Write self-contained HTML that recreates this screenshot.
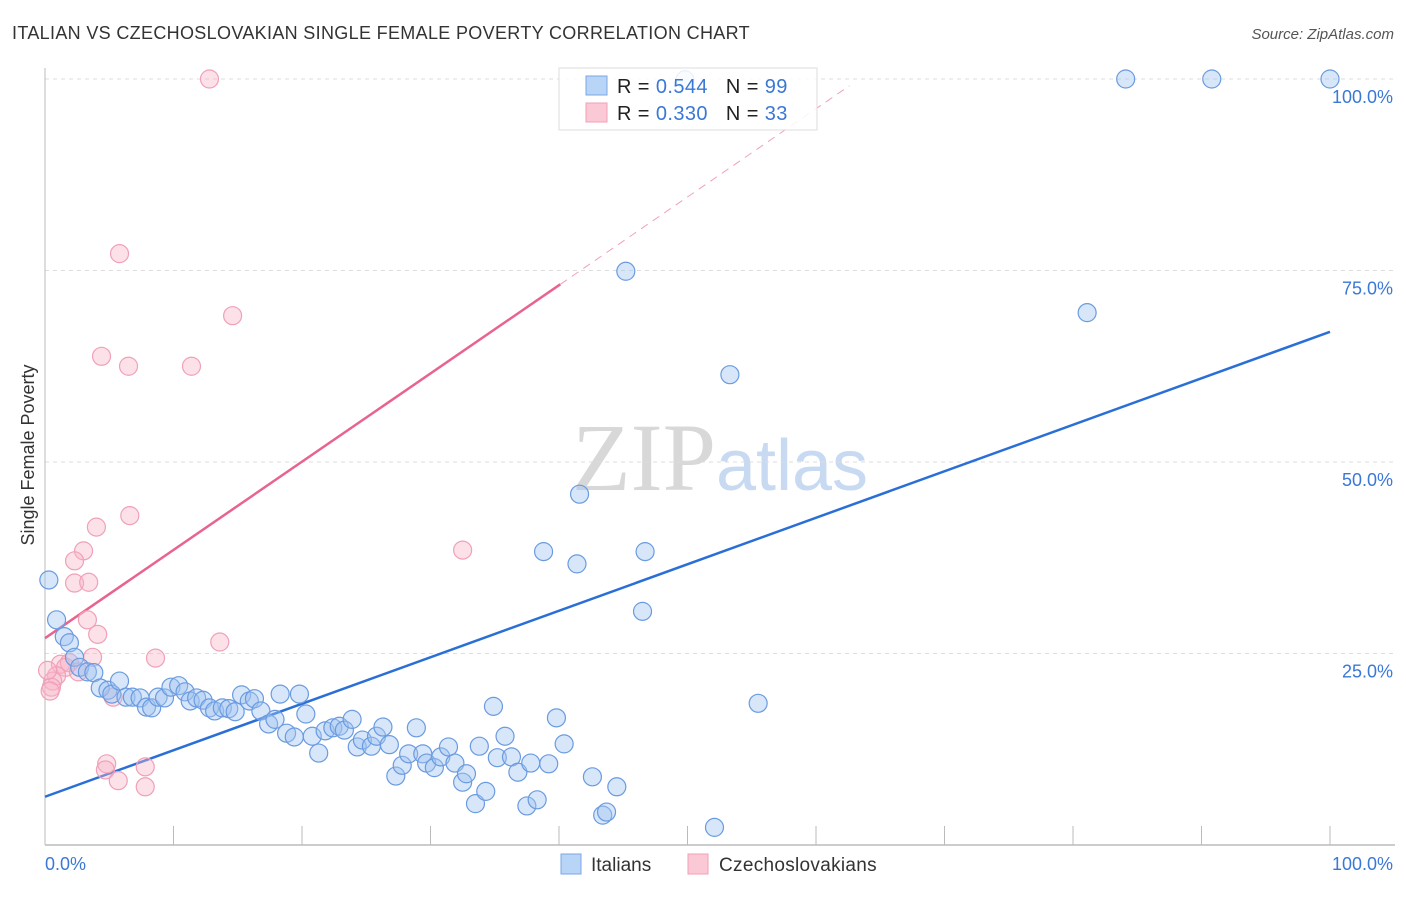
<!DOCTYPE html>
<html><head><meta charset="utf-8"><style>
body{margin:0;background:#fff;font-family:"Liberation Sans",sans-serif;}
svg text{font-family:"Liberation Sans",sans-serif;}
</style></head><body>
<svg id="chart" width="1406" height="892" xmlns="http://www.w3.org/2000/svg">
<text x="12" y="39" font-size="18" fill="#333" letter-spacing="0.33">ITALIAN VS CZECHOSLOVAKIAN SINGLE FEMALE POVERTY CORRELATION CHART</text>
<text x="1394" y="39" font-size="15" fill="#555" text-anchor="end" font-style="italic">Source: ZipAtlas.com</text>
<text x="720" y="490" font-size="96" text-anchor="middle"><tspan fill="#d8d8d8" font-family="Liberation Serif">ZIP</tspan><tspan fill="#c8daf2" font-size="72">atlas</tspan></text>
<text transform="translate(34,455) rotate(-90)" font-size="18" fill="#333" text-anchor="middle">Single Female Poverty</text>
<g id="grid"></g><g id="axes"></g><g id="lines"></g><g id="pts"></g>
<g>
<rect x="559" y="68" width="258" height="62" fill="#fff" fill-opacity="0.85" stroke="#ddd"/>
<rect x="586" y="76" width="21" height="19" fill="#b8d4f6" stroke="#7aa7e6"/>
<rect x="586" y="103" width="21" height="19" fill="#fbc8d6" stroke="#f0a0b8"/>
<text x="617" y="93" font-size="20" fill="#222" letter-spacing="0.4">R = <tspan fill="#3a78d6">0.544</tspan><tspan dx="18">N = </tspan><tspan fill="#3a78d6">99</tspan></text>
<text x="617" y="120" font-size="20" fill="#222" letter-spacing="0.4">R = <tspan fill="#3a78d6">0.330</tspan><tspan dx="18">N = </tspan><tspan fill="#3a78d6">33</tspan></text>
</g>
<g>
<rect x="561" y="854" width="20" height="20" fill="#b8d4f6" stroke="#7aa7e6"/>
<text x="591" y="871" font-size="19" fill="#333">Italians</text>
<rect x="688" y="854" width="20" height="20" fill="#fbc8d6" stroke="#f0a0b8"/>
<text x="719" y="871" font-size="19" fill="#333" letter-spacing="0.3">Czechoslovakians</text>
</g>
</svg>
<script>
const yTicks=[25,50,75,100];
const yTickLabels=["25.0%","50.0%","75.0%","100.0%"];
const xTickVals=[0,10,20,30,40,50,60,70,80,90,100];
const italiansX=[0.3,0.9,1.5,1.9,2.3,2.7,3.3,3.8,4.3,4.9,5.2,5.8,6.3,6.8,7.4,7.9,8.3,8.8,9.3,9.8,10.4,10.9,11.3,11.8,12.3,12.8,13.2,13.8,14.3,14.8,15.3,15.9,16.3,16.8,17.4,17.9,18.3,18.8,19.4,19.8,20.3,20.8,21.3,21.8,22.4,22.9,23.3,23.9,24.3,24.7,25.4,25.8,26.3,26.8,27.3,27.8,28.3,28.9,29.4,29.7,30.3,30.8,31.4,31.9,32.5,32.8,33.5,33.8,34.3,34.9,35.2,35.8,36.3,36.8,37.5,37.8,38.3,38.8,39.2,39.8,40.4,41.4,41.6,42.6,43.4,43.7,44.5,45.2,46.5,46.7,49.8,52.1,53.3,55.5,81.1,84.1,90.8,100];
const italiansY=[34.6,29.4,27.2,26.4,24.5,23.2,22.6,22.5,20.5,20.2,19.7,21.4,19.3,19.3,19.2,18.0,17.9,19.3,19.2,20.6,20.8,20.0,18.8,19.2,18.9,17.9,17.5,17.9,17.8,17.4,19.6,18.8,19.1,17.5,15.8,16.4,19.7,14.6,14.1,19.7,17.1,14.2,12.0,14.9,15.3,15.5,15.0,16.4,12.8,13.7,12.9,14.2,15.4,13.1,9.0,10.4,11.9,15.3,11.9,10.7,10.1,11.5,12.8,10.7,8.2,9.3,5.4,12.9,7.0,18.1,11.4,14.2,11.5,9.5,5.1,10.7,5.9,38.3,10.6,16.6,13.2,36.7,45.8,8.9,3.9,4.3,7.6,74.9,30.5,38.3,99.9,2.3,61.4,18.5,69.5,100,100,100];
const czechX=[12.8,5.8,14.6,4.4,6.5,11.4,6.6,4.0,3.0,2.3,2.3,3.4,3.3,4.1,13.6,8.6,3.7,1.2,1.9,1.6,2.6,0.9,0.6,0.5,0.4,5.3,4.8,4.7,7.8,5.7,7.8,32.5,0.2];
const czechY=[100,77.2,69.1,63.8,62.5,62.5,43.0,41.5,38.4,37.1,34.2,34.3,29.4,27.5,26.5,24.4,24.5,23.6,23.8,23.2,22.6,22.1,21.4,20.6,20.1,19.3,10.6,9.8,10.2,8.4,7.6,38.5,22.8];
const italiansTrend=[6.3,67.0];   // y at x=0 and x=100
const czechTrend=[27.0,1.152];   // intercept, slope
const NS="http://www.w3.org/2000/svg";
const X=v=>45+v*12.85, Y=v=>845-v*7.66;
function mk(tag,attrs,parent){const e=document.createElementNS(NS,tag);for(const k in attrs)e.setAttribute(k,attrs[k]);document.getElementById(parent).appendChild(e);return e;}
yTicks.forEach((t,i)=>{
 const g=mk('line',{x1:45,x2:1395,y1:Y(t),y2:Y(t),stroke:'#ddd','stroke-dasharray':'4,4'},'grid');
 
 
 const l=mk('text',{x:1393,y:Y(t)+24,'font-size':18,fill:'#3a78d6','text-anchor':'end'},'grid');
 l.textContent=yTickLabels[i];
 
 
});
let a=mk('line',{x1:45,x2:45,y1:68,y2:845,stroke:'#bbb'},'axes');


a=mk('line',{x1:45,x2:1395,y1:845,y2:845,stroke:'#bbb','stroke-width':1.5},'axes');


xTickVals.forEach(t=>{const k=mk('line',{x1:X(t),x2:X(t),y1:826,y2:845,stroke:'#bbb'},'axes');
 
 });
let t=mk('text',{x:45,y:870,'font-size':18,fill:'#3a78d6'},'axes');t.textContent='0.0%';


t=mk('text',{x:1393,y:870,'font-size':18,fill:'#3a78d6','text-anchor':'end'},'axes');t.textContent='100.0%';


czechX.forEach((x,i)=>{const c=mk('circle',{cx:X(x),cy:Y(czechY[i]),r:9,fill:'rgba(248,180,200,0.4)',stroke:'#f0a0b8','stroke-width':1.2},'pts');
 
 });
italiansX.forEach((x,i)=>{const c=mk('circle',{cx:X(x),cy:Y(italiansY[i]),r:9,fill:'rgba(160,196,240,0.42)',stroke:'#6a9be0','stroke-width':1.2},'pts');
 
 });
let ln=mk('line',{x1:X(0),y1:Y(italiansTrend[0]),x2:X(100),y2:Y(italiansTrend[1]),stroke:'#2a6fd6','stroke-width':2.5},'lines');


const cy=x=>czechTrend[0]+czechTrend[1]*x;
ln=mk('line',{x1:X(0),y1:Y(cy(0)),x2:X(40.1),y2:Y(cy(40.1)),stroke:'#e8648f','stroke-width':2.5},'lines');


ln=mk('line',{x1:X(40.1),y1:Y(cy(40.1)),x2:X(62.6),y2:Y(cy(62.6)),stroke:'#f0a0b8','stroke-width':1,'stroke-dasharray':'8,6'},'lines');


</script>
</body></html>
